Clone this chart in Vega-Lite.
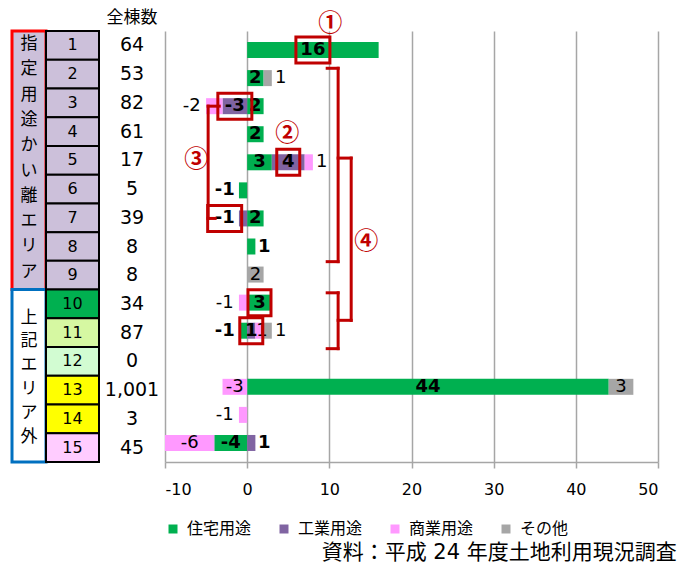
{
  "$schema": "https://vega.github.io/schema/vega-lite/v6.json",
  "padding": {"left": 10, "top": 9, "right": 5, "bottom": 5},
  "bounds": "flush",
  "spacing": 0,
  "config": {
    "font": "DejaVu Sans, Noto Sans CJK JP",
    "view": {"stroke": null},
    "concat": {"spacing": 0}
  },
  "datasets": {
    "rows": [
      {"row": 1, "group": "指定用途かい離エリア", "total": 64},
      {"row": 2, "group": "指定用途かい離エリア", "total": 53},
      {"row": 3, "group": "指定用途かい離エリア", "total": 82},
      {"row": 4, "group": "指定用途かい離エリア", "total": 61},
      {"row": 5, "group": "指定用途かい離エリア", "total": 17},
      {"row": 6, "group": "指定用途かい離エリア", "total": 5},
      {"row": 7, "group": "指定用途かい離エリア", "total": 39},
      {"row": 8, "group": "指定用途かい離エリア", "total": 8},
      {"row": 9, "group": "指定用途かい離エリア", "total": 8},
      {"row": 10, "group": "上記エリア外", "total": 34},
      {"row": 11, "group": "上記エリア外", "total": 87},
      {"row": 12, "group": "上記エリア外", "total": 0},
      {"row": 13, "group": "上記エリア外", "total": 1001},
      {"row": 14, "group": "上記エリア外", "total": 3},
      {"row": 15, "group": "上記エリア外", "total": 45}
    ],
    "bars": [
      {"row": 1, "use": "住宅用途", "value": 16, "hl": true},
      {"row": 2, "use": "住宅用途", "value": 2, "hl": false},
      {"row": 2, "use": "その他", "value": 1, "hl": false},
      {"row": 3, "use": "住宅用途", "value": 2, "hl": false},
      {"row": 3, "use": "工業用途", "value": -3, "hl": true},
      {"row": 3, "use": "商業用途", "value": -2, "hl": false},
      {"row": 4, "use": "住宅用途", "value": 2, "hl": false},
      {"row": 5, "use": "住宅用途", "value": 3, "hl": false},
      {"row": 5, "use": "工業用途", "value": 4, "hl": true},
      {"row": 5, "use": "商業用途", "value": 1, "hl": false},
      {"row": 6, "use": "住宅用途", "value": -1, "hl": false},
      {"row": 7, "use": "住宅用途", "value": 2, "hl": false},
      {"row": 7, "use": "工業用途", "value": -1, "hl": true},
      {"row": 8, "use": "住宅用途", "value": 1, "hl": false},
      {"row": 9, "use": "その他", "value": 2, "hl": false},
      {"row": 10, "use": "住宅用途", "value": 3, "hl": true},
      {"row": 10, "use": "商業用途", "value": -1, "hl": false},
      {"row": 11, "use": "住宅用途", "value": -1, "hl": false},
      {"row": 11, "use": "工業用途", "value": 1, "hl": true},
      {"row": 11, "use": "商業用途", "value": 1, "hl": false},
      {"row": 11, "use": "その他", "value": 1, "hl": false},
      {"row": 13, "use": "住宅用途", "value": 44, "hl": false},
      {"row": 13, "use": "商業用途", "value": -3, "hl": false},
      {"row": 13, "use": "その他", "value": 3, "hl": false},
      {"row": 14, "use": "商業用途", "value": -1, "hl": false},
      {"row": 15, "use": "住宅用途", "value": -4, "hl": false},
      {"row": 15, "use": "工業用途", "value": 1, "hl": false},
      {"row": 15, "use": "商業用途", "value": -6, "hl": false}
    ],
    "brackets": [
      {"x": -4.75, "x2": -4.75, "y": 3, "y2": 7},
      {"x": -4.75, "x2": -3.4, "y": 3, "y2": 3},
      {"x": -4.75, "x2": -3.9, "y": 7, "y2": 7},
      {"x": 11.07, "x2": 11.07, "y": 1.65, "y2": 8.54},
      {"x": 9.74, "x2": 11.07, "y": 1.65, "y2": 1.65},
      {"x": 9.74, "x2": 11.07, "y": 8.54, "y2": 8.54},
      {"x": 11.07, "x2": 12.66, "y": 4.85, "y2": 4.85},
      {"x": 12.66, "x2": 12.66, "y": 4.85, "y2": 10.63},
      {"x": 11.07, "x2": 12.66, "y": 10.63, "y2": 10.63},
      {"x": 11.07, "x2": 11.07, "y": 9.65, "y2": 11.64},
      {"x": 9.74, "x2": 11.07, "y": 9.65, "y2": 9.65},
      {"x": 9.74, "x2": 11.07, "y": 11.64, "y2": 11.64}
    ],
    "notes": [
      {"label": "①", "x": 10.1, "y": 0.08},
      {"label": "②", "x": 4.87, "y": 4.0},
      {"label": "③", "x": -6.2, "y": 4.92},
      {"label": "④", "x": 14.5, "y": 7.84}
    ]
  },
  "title": {"text": "資料：平成 24 年度土地利用現況調査", "orient": "bottom", "anchor": "end", "fontSize": 21, "fontWeight": "normal", "offset": 5, "dx": 18, "color": "#000000"},
  "resolve": {"scale": {"color": "independent", "fill": "independent", "stroke": "independent", "x": "independent", "y": "independent"}, "legend": {"color": "independent"}},
  "hconcat": [
    {
      "width": 34,
      "height": 431,
      "data": {"name": "rows"},
      "transform": [
        {"aggregate": [{"op": "min", "field": "row", "as": "r0"}, {"op": "max", "field": "row", "as": "r1"}], "groupby": ["group"]},
        {"calculate": "datum.r0 - 0.5", "as": "y0"},
        {"calculate": "datum.r1 + 0.5", "as": "y1"},
        {"calculate": "split(datum.group, '')", "as": "chars"}
      ],
      "layer": [
        {
          "mark": {"type": "rect", "strokeWidth": 3},
          "encoding": {
            "x": {"datum": -1, "type": "quantitative", "scale": {"domain": [-1, 1]}, "axis": null},
            "x2": {"datum": 1},
            "y": {"field": "y0", "type": "quantitative", "scale": {"domain": [0.5, 15.5], "reverse": true, "nice": false, "zero": false}, "axis": null},
            "y2": {"field": "y1"},
            "fill": {"field": "group", "type": "nominal", "scale": {"domain": ["指定用途かい離エリア", "上記エリア外"], "range": ["#CCC0DA", "#FFFFFF"]}, "legend": null},
            "stroke": {"field": "group", "type": "nominal", "scale": {"domain": ["指定用途かい離エリア", "上記エリア外"], "range": ["#FF0000", "#0070C0"]}, "legend": null}
          }
        },
        {
          "transform": [{"filter": "datum.r0 == 1"}],
          "mark": {"type": "text", "fontSize": 17, "lineHeight": 25.3, "baseline": "middle", "align": "center", "font": "Noto Sans CJK JP", "color": "#000000", "dy": 13},
          "encoding": {
            "x": {"datum": 0, "type": "quantitative", "scale": {"domain": [-1, 1]}, "axis": null},
            "y": {"field": "y0", "type": "quantitative", "scale": {"domain": [0.5, 15.5], "reverse": true, "nice": false, "zero": false}, "axis": null},
            "text": {"field": "chars"}
          }
        },
        {
          "transform": [{"filter": "datum.r0 == 10"}],
          "mark": {"type": "text", "fontSize": 17, "lineHeight": 23.8, "baseline": "middle", "align": "center", "font": "Noto Sans CJK JP", "color": "#000000", "dy": 28},
          "encoding": {
            "x": {"datum": 0, "type": "quantitative", "scale": {"domain": [-1, 1]}, "axis": null},
            "y": {"field": "y0", "type": "quantitative", "scale": {"domain": [0.5, 15.5], "reverse": true, "nice": false, "zero": false}, "axis": null},
            "text": {"field": "chars"}
          }
        }
      ]
    },
    {
      "width": 53,
      "height": 431,
      "data": {"name": "rows"},
      "transform": [
        {"calculate": "datum.row - 0.5", "as": "y0"},
        {"calculate": "datum.row + 0.5", "as": "y1"}
      ],
      "layer": [
        {
          "mark": {"type": "rect", "stroke": "#000000", "strokeWidth": 2},
          "encoding": {
            "x": {"datum": -1, "type": "quantitative", "scale": {"domain": [-1, 1]}, "axis": null},
            "x2": {"datum": 1},
            "y": {"field": "y0", "type": "quantitative", "scale": {"domain": [0.5, 15.5], "reverse": true, "nice": false, "zero": false}, "axis": null},
            "y2": {"field": "y1"},
            "fill": {"field": "row", "type": "ordinal", "scale": {"domain": [1, 2, 3, 4, 5, 6, 7, 8, 9, 10, 11, 12, 13, 14, 15], "range": ["#CCC0DA", "#CCC0DA", "#CCC0DA", "#CCC0DA", "#CCC0DA", "#CCC0DA", "#CCC0DA", "#CCC0DA", "#CCC0DA", "#00B050", "#D6F8A2", "#D2FCD2", "#FFFF00", "#FFFF00", "#FFCCFF"]}, "legend": null}
          }
        },
        {
          "mark": {"type": "text", "fontSize": 16, "baseline": "middle", "align": "center", "color": "#000000"},
          "encoding": {
            "x": {"datum": 0, "type": "quantitative", "scale": {"domain": [-1, 1]}, "axis": null},
            "y": {"field": "row", "type": "quantitative", "scale": {"domain": [0.5, 15.5], "reverse": true, "nice": false, "zero": false}, "axis": null},
            "text": {"field": "row", "type": "nominal"}
          }
        }
      ]
    },
    {
      "width": 66,
      "height": 431,
      "title": {"text": "全棟数", "fontSize": 17, "fontWeight": "normal", "offset": 4, "color": "#000000", "font": "Noto Sans CJK JP"},
      "data": {"name": "rows"},
      "mark": {"type": "text", "fontSize": 19, "baseline": "middle", "align": "center", "color": "#000000"},
      "encoding": {
        "x": {"datum": 0, "type": "quantitative", "scale": {"domain": [-1, 1]}, "axis": null},
        "y": {"field": "row", "type": "quantitative", "scale": {"domain": [0.5, 15.5], "reverse": true, "nice": false, "zero": false}, "axis": null},
        "text": {"field": "total", "type": "quantitative", "format": ","}
      }
    },
    {
      "width": 493,
      "height": 431,
      "layer": [
        {
          "data": {"name": "bars"},
          "transform": [
            {"calculate": "indexof(['住宅用途','工業用途','商業用途','その他'], datum.use)", "as": "ord"},
            {"stack": "value", "groupby": ["row"], "sort": [{"field": "ord", "order": "ascending"}], "as": ["v0", "v1"]},
            {"calculate": "datum.value < 0 ? -1 : 1", "as": "sgn"},
            {"calculate": "abs(datum.v1)", "as": "av1"},
            {"joinaggregate": [{"op": "max", "field": "av1", "as": "mx"}], "groupby": ["row", "sgn"]},
            {"calculate": "toString(datum.value)", "as": "lab"},
            {"calculate": "datum.av1 == datum.mx && (datum.value == 1 || datum.value == -1 || datum.value == -2)", "as": "outer"},
            {"calculate": "datum.outer ? datum.v1 + datum.sgn * (0.4 + 5.5 * length(datum.lab) / 8.217) : (abs(datum.value) == 1 && datum.v0 != 0 ? (datum.v0 + datum.v1) / 2 + datum.sgn * 0.3 : (datum.v0 + datum.v1) / 2)", "as": "lx"},
            {"calculate": "(5.5 * length(datum.lab) + 6) / 8.217", "as": "hw"},
            {"calculate": "datum.lx - datum.hw", "as": "bx0"},
            {"calculate": "datum.lx + datum.hw", "as": "bx1"}
          ],
          "layer": [
            {
              "mark": {"type": "bar", "height": 16, "orient": "horizontal"},
              "encoding": {
                "x": {"field": "v0", "type": "quantitative", "scale": {"domain": [-10, 50], "nice": false, "zero": false}, "axis": {"values": [-10, 0, 10, 20, 30, 40, 50], "grid": true, "gridColor": "#A6A6A6", "gridWidth": 1.5, "domainColor": "#A6A6A6", "domainWidth": 1.5, "tickColor": "#A6A6A6", "tickWidth": 1.5, "tickSize": 6, "labelFontSize": 16, "labelColor": "#000000", "labelPadding": 13, "labelExpr": "toString(datum.value)", "title": null}},
                "x2": {"field": "v1"},
                "y": {"field": "row", "type": "quantitative", "scale": {"domain": [0.5, 15.5], "reverse": true, "nice": false, "zero": false}, "axis": null},
                "color": {"field": "use", "type": "nominal", "scale": {"domain": ["住宅用途", "工業用途", "商業用途", "その他"], "range": ["#00B050", "#8064A2", "#FF99FF", "#A6A6A6"]}, "legend": {"orient": "bottom", "direction": "horizontal", "title": null, "symbolType": "square", "symbolSize": 81, "symbolStrokeWidth": 0, "labelFontSize": 16, "labelFont": "Noto Sans CJK JP", "labelColor": "#000000", "columnPadding": 24, "labelOffset": 6, "offset": 24}}
              }
            },
            {
              "transform": [{"filter": "datum.use == '住宅用途' || datum.use == '工業用途'"}],
              "mark": {"type": "text", "fontSize": 18, "fontWeight": "bold", "baseline": "middle", "align": "center", "color": "#000000"},
              "encoding": {
                "x": {"field": "lx", "type": "quantitative"},
                "y": {"field": "row", "type": "quantitative"},
                "text": {"field": "lab"}
              }
            },
            {
              "transform": [{"filter": "datum.use == '商業用途' || datum.use == 'その他'"}],
              "mark": {"type": "text", "fontSize": 18, "baseline": "middle", "align": "center", "color": "#000000"},
              "encoding": {
                "x": {"field": "lx", "type": "quantitative"},
                "y": {"field": "row", "type": "quantitative"},
                "text": {"field": "lab"}
              }
            },
            {
              "transform": [{"filter": "datum.hl"}],
              "mark": {"type": "bar", "filled": false, "stroke": "#C00000", "strokeWidth": 3, "height": 26, "orient": "horizontal"},
              "encoding": {
                "x": {"field": "bx0", "type": "quantitative"},
                "x2": {"field": "bx1"},
                "y": {"field": "row", "type": "quantitative"}
              }
            }
          ]
        },
        {
          "data": {"name": "brackets"},
          "mark": {"type": "rule", "color": "#C00000", "strokeWidth": 3, "strokeCap": "square"},
          "encoding": {
            "x": {"field": "x", "type": "quantitative"},
            "x2": {"field": "x2"},
            "y": {"field": "y", "type": "quantitative"},
            "y2": {"field": "y2"}
          }
        },
        {
          "data": {"name": "notes"},
          "mark": {"type": "text", "fontSize": 24, "fontWeight": "bold", "color": "#C00000", "baseline": "middle", "align": "center", "font": "Noto Sans CJK JP"},
          "encoding": {
            "x": {"field": "x", "type": "quantitative"},
            "y": {"field": "y", "type": "quantitative"},
            "text": {"field": "label"}
          }
        }
      ]
    }
  ]
}
